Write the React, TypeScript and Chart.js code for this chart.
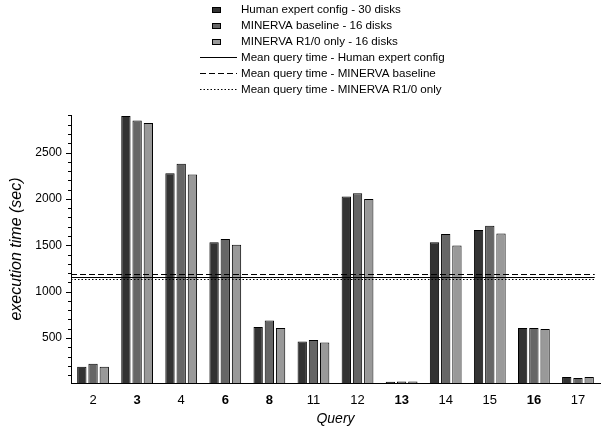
import React, { useEffect, useRef } from 'react';
import { Chart, registerables } from 'chart.js';

Chart.register(...registerables);

const categories = ['2', '3', '4', '6', '8', '11', '12', '13', '14', '15', '16', '17'];
const boldCategories = ['3', '6', '8', '13', '16'];
const seriesNames = [
  'Human expert config - 30 disks',
  'MINERVA baseline - 16 disks',
  'MINERVA R1/0 only - 16 disks',
];
const humanExpert = [191, 2893, 2278, 1534, 618, 463, 2026, 28, 1534, 1664, 608, 80];
const minervaBaseline = [223, 2845, 2378, 1567, 690, 478, 2062, 32, 1621, 1710, 608, 69];
const minervaR10 = [191, 2820, 2263, 1505, 608, 453, 1998, 32, 1498, 1627, 597, 80];
const meanNames = [
  'Mean query time - Human expert config',
  'Mean query time - MINERVA baseline',
  'Mean query time - MINERVA R1/0 only',
];
const meanValues = [1160, 1190, 1138];
const yTickLabels = [500, 1000, 1500, 2000, 2500];
const yMinorStep = 100;
const yMin = 15;
const yMax = 2905;

const FONT = '"Liberation Sans", Arial, sans-serif';
const barColors = ['#333333', '#666666', '#999999'];
const meanDashes: number[][] = [[], [6, 3], [1.5, 2]];

const overlayPlugin = {
  id: 'overlay',
  afterDatasetsDraw(chart: any) {
    const { ctx, chartArea, scales } = chart;
    const x = scales.x;
    const y = scales.y;
    ctx.save();
    const xEnd = x.getPixelForValue(categories.length - 1 + 0.38);
    meanValues.forEach((v, i) => {
      const py = Math.round(y.getPixelForValue(v)) + 0.5;
      ctx.beginPath();
      ctx.setLineDash(meanDashes[i]);
      ctx.strokeStyle = '#000';
      ctx.lineWidth = 1;
      ctx.moveTo(chartArea.left, py);
      ctx.lineTo(xEnd, py);
      ctx.stroke();
    });
    ctx.setLineDash([]);
    y.ticks.forEach((t: any) => {
      const isMajor = yTickLabels.includes(t.value);
      const len = isMajor ? 5 : 3;
      const py = Math.round(y.getPixelForValue(t.value)) + 0.5;
      ctx.beginPath();
      ctx.strokeStyle = '#000';
      ctx.lineWidth = 1;
      ctx.moveTo(chartArea.left - len, py);
      ctx.lineTo(chartArea.left, py);
      ctx.stroke();
    });
    ctx.restore();
  },
  afterDraw(chart: any) {
    const { ctx } = chart;
    ctx.save();
    ctx.font = `11.6px ${FONT}`;
    ctx.textBaseline = 'middle';
    ctx.textAlign = 'left';
    const textX = 241;
    const rowY = (i: number) => 10 + i * 15.8;
    seriesNames.forEach((name, i) => {
      const cy = Math.round(rowY(i));
      ctx.fillStyle = barColors[i];
      ctx.fillRect(212, cy - 3, 9, 6);
      ctx.strokeStyle = '#000';
      ctx.lineWidth = 1;
      ctx.strokeRect(212.5, cy - 2.5, 8, 5);
      ctx.fillStyle = '#000';
      ctx.fillText(name, textX, cy);
    });
    meanNames.forEach((name, j) => {
      const i = j + 3;
      const cy = Math.round(rowY(i)) + 0.5;
      ctx.beginPath();
      ctx.setLineDash(meanDashes[j]);
      ctx.strokeStyle = '#000';
      ctx.lineWidth = 1;
      ctx.moveTo(200, cy);
      ctx.lineTo(237, cy);
      ctx.stroke();
      ctx.setLineDash([]);
      ctx.fillStyle = '#000';
      ctx.fillText(name, textX, cy);
    });
    ctx.restore();
  },
};

export default function App() {
  const ref = useRef<HTMLCanvasElement>(null);
  useEffect(() => {
    if (!ref.current) return;
    const data = [humanExpert, minervaBaseline, minervaR10];
    const chart = new Chart(ref.current, {
      type: 'bar',
      data: {
        labels: categories,
        datasets: data.map((d, i) => ({
          label: seriesNames[i],
          data: d,
          backgroundColor: barColors[i],
          borderColor: '#000',
          borderWidth: 1,
          categoryPercentage: 0.764,
          barPercentage: 0.83,
        })),
      },
      options: {
        responsive: false,
        animation: false,
        layout: { padding: { left: 0, top: 115, right: 3, bottom: 0 } },
        plugins: {
          legend: { display: false },
          tooltip: { enabled: false },
        },
        scales: {
          x: {
            grid: { display: false, drawTicks: false },
            border: { display: true, color: '#000', width: 1 },
            ticks: {
              color: '#000',
              padding: 10,
              maxRotation: 0,
              autoSkip: false,
              font: (c: any) => ({
                family: FONT,
                size: 13,
                weight: boldCategories.includes(categories[c.index]) ? '600' : 'normal',
              }),
            },
            title: {
              display: true,
              text: 'Query',
              color: '#000',
              font: { family: FONT, size: 14, style: 'italic' },
              padding: { top: 0, bottom: 6 },
            },
            afterFit: (s: any) => {
              s.height = 51;
            },
          },
          y: {
            min: yMin,
            max: yMax,
            grid: { display: false, drawTicks: true, tickLength: 5 },
            border: { display: true, color: '#000', width: 1 },
            afterBuildTicks: (s: any) => {
              const t: any[] = [];
              for (let v = yMinorStep; v <= yMax; v += yMinorStep) t.push({ value: v });
              s.ticks = t;
            },
            ticks: {
              autoSkip: false,
              color: '#000',
              padding: 4,
              font: { family: FONT, size: 12 },
              callback: (v: any) => (yTickLabels.includes(Number(v)) ? String(v) : ''),
            },
            title: {
              display: true,
              text: 'execution time (sec)',
              color: '#000',
              font: { family: FONT, size: 16, style: 'italic' },
              padding: { top: 7, bottom: 0 },
            },
            afterFit: (s: any) => {
              s.width = 71;
            },
          },
        },
      },
      plugins: [overlayPlugin],
    });
    return () => chart.destroy();
  }, []);
  return (
    <div style={{ position: 'absolute', left: 0, top: 0, width: 603, height: 434, background: '#fff' }}>
      <canvas ref={ref} width={603} height={434} style={{ display: 'block' }} />
    </div>
  );
}
